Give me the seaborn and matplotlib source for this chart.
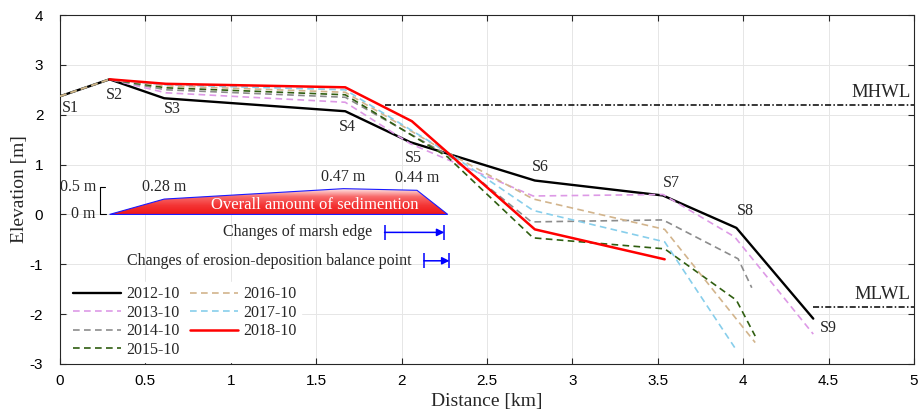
import numpy as np
import pandas as pd
import matplotlib
matplotlib.use("Agg")
import matplotlib.pyplot as plt
from matplotlib.patches import Polygon
from matplotlib.colors import LinearSegmentedColormap
import seaborn as sns

# profile survey data (distance in km, elevation in m)
dist_2012 = [0.0, 0.29, 0.61, 1.67, 2.05, 2.78, 3.53, 3.96, 4.41]
elev_2012 = [2.37, 2.71, 2.33, 2.07, 1.45, 0.68, 0.38, -0.27, -2.09]

dist_2013 = [0.0, 0.29, 0.62, 1.67, 2.05, 2.77, 3.53, 3.95, 4.41]
elev_2013 = [2.37, 2.71, 2.44, 2.25, 1.42, 0.37, 0.40, -0.45, -2.40]

dist_2014 = [0.0, 0.29, 0.62, 1.67, 2.29, 2.76, 3.53, 3.97, 4.05]
elev_2014 = [2.37, 2.71, 2.50, 2.35, 1.15, -0.15, -0.11, -0.89, -1.47]

dist_2015 = [0.0, 0.29, 0.62, 1.67, 2.27, 2.77, 3.54, 3.96, 4.07]
elev_2015 = [2.37, 2.71, 2.54, 2.40, 1.15, -0.47, -0.69, -1.72, -2.44]

dist_2016 = [0.0, 0.29, 0.62, 1.67, 2.29, 2.77, 3.54, 4.07]
elev_2016 = [2.37, 2.71, 2.58, 2.45, 1.20, 0.31, -0.30, -2.57]

dist_2017 = [0.29, 0.62, 1.67, 2.29, 2.77, 3.54, 3.95]
elev_2017 = [2.71, 2.60, 2.50, 1.20, 0.08, -0.55, -2.67]

dist_2018 = [0.29, 0.62, 1.67, 2.06, 2.78, 3.54]
elev_2018 = [2.71, 2.62, 2.55, 1.87, -0.30, -0.90]

# section labels
sec_names = ["S1", "S2", "S3", "S4", "S5", "S6", "S7", "S8", "S9"]
sec_x = [0.06, 0.32, 0.66, 1.68, 2.07, 2.81, 3.58, 4.01, 4.50]
sec_y = [2.14, 2.40, 2.12, 1.76, 1.14, 0.96, 0.64, 0.06, -2.28]

# tidal levels
mhwl = 2.2
mhwl_start = 1.90
mlwl = -1.86
mlwl_start = 4.41

# sedimentation sketch
sed_x = [0.29, 0.61, 1.66, 2.09, 2.27]
sed_amount = [0.0, 0.28, 0.47, 0.44, 0.0]
sed_scale = 1.1  # 0.5 m on the scale bar spans 0.55 elevation units

marsh_edge = [1.90, 2.25]
balance_point = [2.13, 2.28]

sns.set_style("ticks")
plt.rcParams["font.family"] = ["Liberation Serif", "DejaVu Serif"]

fig = plt.figure(figsize=(9.19, 4.17), dpi=100)
ax = fig.add_axes([0.0653, 0.1271, 0.9293, 0.8369])

dash = (0, (4, 2.6))
series = [
    ("2012-10", dist_2012, elev_2012, "black", 1.7, "-"),
    ("2013-10", dist_2013, elev_2013, "#dd99e6", 1.2, dash),
    ("2014-10", dist_2014, elev_2014, "#8c8c8c", 1.2, dash),
    ("2015-10", dist_2015, elev_2015, "#2f5e10", 1.2, dash),
    ("2016-10", dist_2016, elev_2016, "#d2b48c", 1.2, dash),
    ("2017-10", dist_2017, elev_2017, "#87ceeb", 1.2, dash),
    ("2018-10", dist_2018, elev_2018, "#ff0000", 1.8, "-"),
]
for name, xs, ys, col, lw, ls in series:
    df = pd.DataFrame({"dist": xs, "elev": ys})
    sns.lineplot(data=df, x="dist", y="elev", ax=ax, color=col, lw=lw,
                 linestyle=ls, label=name, estimator=None, sort=False, zorder=4)

# tidal levels
ax.plot([mhwl_start, 5], [mhwl, mhwl], color="black", lw=1.1,
        linestyle=(0, (4, 1.5, 1, 1.5)), zorder=3)
ax.plot([mlwl_start, 5], [mlwl, mlwl], color="black", lw=1.1,
        linestyle=(0, (4, 1.5, 1, 1.5)), zorder=3)
ax.text(4.98, mhwl + 0.08, "MHWL", ha="right", va="bottom", fontsize=13.5)
ax.text(4.98, mlwl + 0.08, "MLWL", ha="right", va="bottom", fontsize=13.5)

for n, sx, sy in zip(sec_names, sec_x, sec_y):
    ax.text(sx, sy, n, ha="center", va="center", fontsize=11.5, zorder=5)

# sedimentation polygon with gradient fill
sed_y = [v * sed_scale for v in sed_amount]
poly = Polygon(list(zip(sed_x, sed_y)), closed=True, facecolor="none",
               edgecolor="#1a1aff", lw=0.8, zorder=3.5)
ax.add_patch(poly)
cmap = LinearSegmentedColormap.from_list("sed", ["#f01818", "#f43535", "#f86a6a", "#fff2f2"])
grad = np.linspace(0, 1, 256).reshape(-1, 1)
im = ax.imshow(grad, extent=[min(sed_x), max(sed_x), 0, max(sed_y)],
               origin="lower", cmap=cmap, aspect="auto", zorder=3)
im.set_clip_path(poly)
ax.text(1.49, 0.19, "Overall amount of sedimention",
        color="white", ha="center", va="center", fontsize=12, zorder=5)
for sx, sa, sy in zip(sed_x[1:4], sed_amount[1:4], sed_y[1:4]):
    ax.text(sx, sy + 0.08, f"{sa:.2f} m", ha="center", va="bottom", fontsize=11.5)

# scale bar
ax.plot([0.265, 0.232, 0.232, 0.27], [0.5 * sed_scale, 0.5 * sed_scale, 0, 0],
        color="black", lw=0.8)
ax.text(0.215, 0.5 * sed_scale, "0.5 m", ha="right", va="center", fontsize=11.5)
ax.text(0.21, 0.0, "0 m", ha="right", va="center", fontsize=11.5)

# change arrows
for (x0, x1), y, label in [(marsh_edge, -0.36, "Changes of marsh edge"),
                           (balance_point, -0.93, "Changes of erosion-deposition balance point")]:
    ax.annotate("", xy=(x1, y), xytext=(x0, y),
                arrowprops=dict(arrowstyle="-|>", color="blue", lw=1.1,
                                shrinkA=0, shrinkB=0, mutation_scale=11))
    ax.vlines([x0, x1], y - 0.15, y + 0.15, color="blue", lw=1.1)
    ax.text(x0 - 0.07, y, label, ha="right", va="center", fontsize=11.5)

ax.set_xlim(0, 5)
ax.set_ylim(-3, 4)
ax.set_xticks(np.arange(0, 5.01, 0.5))
ax.set_yticks(np.arange(-3, 4.01, 1))
ax.set_xticklabels(["0", "0.5", "1", "1.5", "2", "2.5", "3", "3.5", "4", "4.5", "5"])
ax.set_yticklabels([str(v) for v in range(-3, 5)])
for lab in ax.get_xticklabels() + ax.get_yticklabels():
    lab.set_fontfamily("Liberation Sans")
    lab.set_fontsize(11)
ax.tick_params(direction="in", length=4, width=0.8, top=True, right=True,
               colors="#262626", labelcolor="black")
ax.tick_params(axis="x", pad=7)
ax.tick_params(axis="y", pad=12)
ax.grid(True, color="#e6e6e6", lw=0.7)
ax.set_axisbelow(True)
for sp in ax.spines.values():
    sp.set_visible(True)
    sp.set_color("#262626")
    sp.set_linewidth(0.8)
ax.set_xlabel("Distance [km]", fontsize=14, labelpad=4)
ax.set_ylabel("Elevation [m]", fontsize=14, labelpad=1)

handles, labels = ax.get_legend_handles_labels()
leg = ax.legend(handles[:7], labels[:7], ncol=2, loc="lower left",
                bbox_to_anchor=(0.008, 0.0), fontsize=11.5, frameon=True,
                fancybox=False, framealpha=1, edgecolor="white",
                handlelength=3.0, handletextpad=0.3, columnspacing=0.7,
                labelspacing=0.15, borderpad=0.3, borderaxespad=0.1)
leg.set_zorder(6)

fig.savefig("out.png", dpi=100)
